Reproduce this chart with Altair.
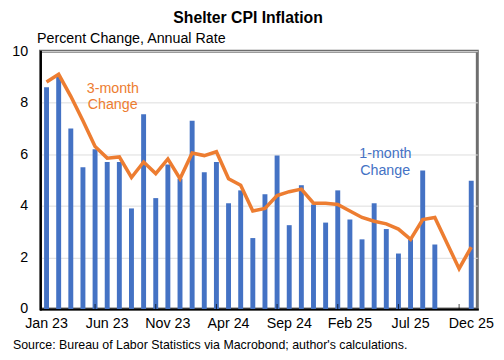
import altair as alt
import pandas as pd

months = ["Jan 23", "Feb 23", "Mar 23", "Apr 23", "May 23", "Jun 23", "Jul 23", "Aug 23", "Sep 23", "Oct 23", "Nov 23", "Dec 23",
          "Jan 24", "Feb 24", "Mar 24", "Apr 24", "May 24", "Jun 24", "Jul 24", "Aug 24", "Sep 24", "Oct 24", "Nov 24", "Dec 24",
          "Jan 25", "Feb 25", "Mar 25", "Apr 25", "May 25", "Jun 25", "Jul 25", "Aug 25", "Sep 25", "Oct 25", "Nov 25", "Dec 25"]

one_month = [8.6, 9.05, 7.0, 5.5, 6.2, 5.7, 5.7, 3.9, 7.55, 4.3, 5.6, 5.05,
             7.3, 5.3, 5.7, 4.1, 4.6, 2.75, 4.45, 5.95, 3.25, 4.8, 4.05, 3.35,
             4.6, 3.47, 2.7, 4.1, 3.1, 2.15, 2.7, 5.37, 2.5, None, None, 4.97]

three_month = [8.8, 9.1, 8.25, 7.3, 6.3, 5.85, 5.9, 5.1, 5.7, 5.25, 5.82, 5.05,
               6.05, 5.95, 6.1, 5.05, 4.8, 3.8, 3.9, 4.4, 4.55, 4.65, 4.1, 4.1,
               4.05, 3.8, 3.55, 3.4, 3.3, 3.1, 2.7, 3.47, 3.55, None, 1.56, 2.4]

label_months = ["Jan 23", "Jun 23", "Nov 23", "Apr 24", "Sep 24", "Feb 25", "Jul 25", "Dec 25"]
tick_months = ["Jun 23", "Nov 23", "Apr 24", "Sep 24", "Feb 25", "Jul 25", "Dec 25"]

BLUE = "#4472C4"
ORANGE = "#ED7D31"
FONT = "Liberation Sans"
W, H = 444, 262
BAND = W / len(months)

bars_df = pd.DataFrame({"month": months, "v": one_month}).dropna()
line_df = pd.DataFrame({"month": months, "v": three_month}).dropna()
ticks_df = pd.DataFrame({"month": tick_months})

xscale = alt.Scale(domain=months, paddingInner=0, paddingOuter=0)
yscale = alt.Scale(domain=[0, 10], nice=False)

x_enc = alt.X("month:N", scale=xscale, sort=months,
              axis=alt.Axis(values=label_months, labelAngle=0, labelFontSize=14.5, labelFont=FONT,
                            labelColor="black", ticks=False, domain=True, domainColor="black",
                            domainWidth=2, labelPadding=8, title=None, grid=False))

bars = alt.Chart(bars_df).mark_bar(size=5, color=BLUE).encode(
    x=x_enc,
    y=alt.Y("v:Q", scale=yscale,
            axis=alt.Axis(values=[0, 2, 4, 6, 8, 10], labelFontSize=14.5, labelFont=FONT, labelColor="black",
                          ticks=False, labelPadding=13, domain=True, domainColor="black", domainWidth=2,
                          grid=True, gridColor="#dcdcdc", gridWidth=1,
                          title="Percent Change, Annual Rate", titleAngle=0, titleAlign="left",
                          titleBaseline="alphabetic", titleX=-4, titleY=-9, titleFont=FONT,
                          titleFontSize=14.5, titleFontWeight="normal", titleColor="black")),
)

line = alt.Chart(line_df).mark_line(color=ORANGE, strokeWidth=3.6, strokeJoin="miter").encode(
    x=alt.X("month:N", scale=xscale, sort=months),
    y=alt.Y("v:Q", scale=yscale),
)

ticks = alt.Chart(ticks_df).mark_tick(color="black", thickness=1, size=5, orient="vertical").encode(
    x=alt.X("month:N", scale=xscale, sort=months),
    xOffset=alt.value(-BAND / 2),
    y=alt.value(H - 2.5),
)


def txt(s, x, y, size=14.5, color="black", weight="normal", align="left"):
    return alt.Chart(pd.DataFrame({"t": [s]})).mark_text(
        font=FONT, fontSize=size, color=color, fontWeight=weight, align=align, baseline="alphabetic"
    ).encode(text="t:N", x=alt.value(x), y=alt.value(y))


title = txt("Shelter CPI Inflation", 211, -29, size=16, weight="bold", align="center")
ann3a = txt("3-month", 47, 42, color=ORANGE)
ann3b = txt("Change", 48, 59, color=ORANGE)
ann1a = txt("1-month", 324, 109, color=BLUE)
ann1b = txt("Change", 325, 126, color=BLUE)
source = txt("Source: Bureau of Labor Statistics via Macrobond; author's calculations.", -28, 303, size=12.6)

chart = alt.layer(bars, line, ticks, title, ann3a, ann3b, ann1a, ann1b, source).properties(
    width=W, height=H,
    autosize=alt.AutoSizeParams(type="none"),
    padding={"left": 33, "top": 41, "right": 19, "bottom": 49},
).configure_view(stroke="#6e6e6e", strokeWidth=3, fill="white").configure_axis(domainCap="square")

chart.save("out.html", embed_options={"renderer": "svg", "actions": False})
